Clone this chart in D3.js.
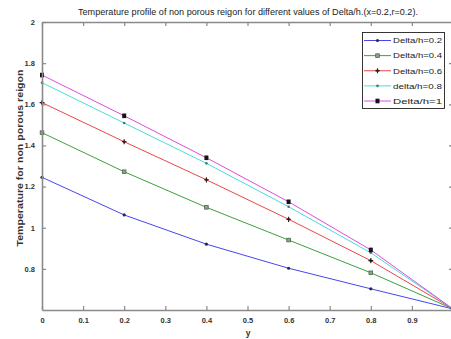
<!DOCTYPE html>
<html>
<head>
<meta charset="utf-8">
<script src="https://cdn.jsdelivr.net/npm/d3@7"></script>
<style>
  html, body { margin: 0; padding: 0; background: #fff; }
  svg { display: block; font-family: "Liberation Sans", Arial, sans-serif; }
</style>
</head>
<body>
<svg id="chart" width="451" height="339"></svg>
<script>
// Temperature profile data, non porous region
const yPositions = [0, 0.2, 0.4, 0.6, 0.8, 1.0];
const seriesNames = ["Delta/h=0.2", "Delta/h=0.4", "Delta/h=0.6", "delta/h=0.8", "Delta/h=1"];
const tempDelta02 = [1.245, 1.062, 0.920, 0.803, 0.703, 0.605];
const tempDelta04 = [1.462, 1.272, 1.099, 0.940, 0.781, 0.605];
const tempDelta06 = [1.608, 1.418, 1.233, 1.041, 0.840, 0.605];
const tempDelta08 = [1.705, 1.509, 1.313, 1.102, 0.878, 0.605];
const tempDelta10 = [1.742, 1.544, 1.340, 1.126, 0.892, 0.605];
const xTickValues = [0, 0.1, 0.2, 0.3, 0.4, 0.5, 0.6, 0.7, 0.8, 0.9, 1];
const xTickLabels = ["0", "0.1", "0.2", "0.3", "0.4", "0.5", "0.6", "0.7", "0.8", "0.9", ""];
const yTickValues = [0.8, 1, 1.2, 1.4, 1.6, 1.8, 2];
const yTickLabels = ["0.8", "1", "1.2", "1.4", "1.6", "1.8", "2"];

const seriesValues = [tempDelta02, tempDelta04, tempDelta06, tempDelta08, tempDelta10];
const lineColors = ["#4646f0", "#3ea03e", "#ec4646", "#4adcdc", "#e04ce0"];
const markerKinds = ["dot", "square", "plus", "point", "filledSquare"];

const svg = d3.select("#chart");
const plotLeft = 42, plotRight = 453, plotTop = 22, plotBottom = 310;

const x = d3.scaleLinear().domain([0, 1]).range([plotLeft, plotRight]);
const y = d3.scaleLinear().domain([0.6, 2]).range([plotBottom, plotTop]);

const axisColor = "#8a8a8a";
const textColor = "#333";

// Lines
const line = d3.line().x((d, i) => x(yPositions[i])).y(d => y(d));
const plot = svg.append("g");
seriesValues.forEach((vals, k) => {
  plot.append("path")
    .datum(vals)
    .attr("d", line)
    .attr("fill", "none")
    .attr("stroke", lineColors[k])
    .attr("stroke-width", 1);
});

function drawMarker(g, kind, cx, cy) {
  if (kind === "dot") {
    g.append("circle").attr("cx", cx).attr("cy", cy).attr("r", 1.6).attr("fill", "#2a2a50");
  } else if (kind === "square") {
    g.append("rect").attr("x", cx - 1.8).attr("y", cy - 1.8).attr("width", 3.6).attr("height", 3.6)
      .attr("fill", "#8aa88a").attr("stroke", "#4a664a").attr("stroke-width", 0.8);
  } else if (kind === "plus") {
    g.append("path").attr("d", `M${cx - 2.4},${cy}H${cx + 2.4}M${cx},${cy - 2.6}V${cy + 2.6}`)
      .attr("stroke", "#2a1a1a").attr("stroke-width", 1.1);
    g.append("circle").attr("cx", cx).attr("cy", cy).attr("r", 1.3).attr("fill", "#2a1a1a");
  } else if (kind === "point") {
    g.append("circle").attr("cx", cx).attr("cy", cy).attr("r", 1.3).attr("fill", "#3a7a7a");
  } else if (kind === "filledSquare") {
    g.append("rect").attr("x", cx - 2).attr("y", cy - 2.3).attr("width", 4).attr("height", 4.6)
      .attr("fill", "#151515");
  }
}

// Markers
const marks = svg.append("g");
seriesValues.forEach((vals, k) => {
  vals.forEach((v, i) => drawMarker(marks, markerKinds[k], x(yPositions[i]), y(v)));
});

// Axes box with inward ticks
const axes = svg.append("g");
const xBottom = d3.axisBottom(x).tickValues(xTickValues).tickSize(-4).tickSizeOuter(0)
  .tickFormat((d, i) => xTickLabels[i]).tickPadding(8);
const xTop = d3.axisTop(x).tickValues(xTickValues).tickSize(-4).tickSizeOuter(0).tickFormat("");
const yLeft = d3.axisLeft(y).tickValues(yTickValues).tickSize(-4).tickSizeOuter(0)
  .tickFormat((d, i) => yTickLabels[i]).tickPadding(7);
const yRight = d3.axisRight(y).tickValues(yTickValues).tickSize(-4).tickSizeOuter(0).tickFormat("");

function styleAxis(g) {
  g.select(".domain").attr("stroke", axisColor).attr("stroke-width", 1.6);
  g.selectAll(".tick line").attr("stroke", axisColor).attr("stroke-width", 1.2);
  g.selectAll(".tick text").attr("fill", textColor).style("font-size", "7.5px").style("font-weight", "bold");
}

axes.append("g").attr("transform", `translate(0,${plotBottom})`).call(xBottom).call(styleAxis);
axes.append("g").attr("transform", `translate(0,${plotTop})`).call(xTop).call(styleAxis);
axes.append("g").attr("transform", `translate(${plotLeft},0)`).call(yLeft).call(styleAxis);
axes.append("g").attr("transform", `translate(${plotRight},0)`).call(yRight).call(styleAxis);

// Title and axis labels
svg.append("text")
  .attr("x", 248).attr("y", 15)
  .attr("text-anchor", "middle")
  .attr("fill", "#222")
  .attr("textLength", 340).attr("lengthAdjust", "spacingAndGlyphs")
  .style("font-size", "8.5px")
  .text("Temperature profile of non porous reigon for different values of Delta/h.(x=0.2,r=0.2).");

svg.append("text")
  .attr("x", 248).attr("y", 336)
  .attr("text-anchor", "middle")
  .attr("fill", textColor)
  .style("font-size", "8.5px").style("font-weight", "bold")
  .text("y");

svg.append("text")
  .attr("transform", "translate(23,158) rotate(-90)")
  .attr("text-anchor", "middle")
  .attr("fill", textColor)
  .attr("textLength", 177).attr("lengthAdjust", "spacingAndGlyphs")
  .style("font-size", "8.5px").style("font-weight", "bold")
  .text("Temperature for non porous reigon");

// Legend
const legend = svg.append("g");
legend.append("rect")
  .attr("x", 362.5).attr("y", 32.5).attr("width", 82).attr("height", 76)
  .attr("fill", "#fff").attr("stroke", "#222").attr("stroke-width", 0.9);
const legendRow = d3.scaleLinear().domain([0, 4]).range([40.5, 101]);
seriesNames.forEach((name, k) => {
  const ly = legendRow(k);
  legend.append("line")
    .attr("x1", 364).attr("x2", 391).attr("y1", ly).attr("y2", ly)
    .attr("stroke", lineColors[k]).attr("stroke-width", 1);
  drawMarker(legend, markerKinds[k], 377.5, ly);
  legend.append("text")
    .attr("x", 393).attr("y", ly + 2.8)
    .attr("fill", "#222")
    .attr("textLength", 49).attr("lengthAdjust", "spacingAndGlyphs")
    .style("font-size", "8px")
    .text(name);
});
</script>
</body>
</html>
